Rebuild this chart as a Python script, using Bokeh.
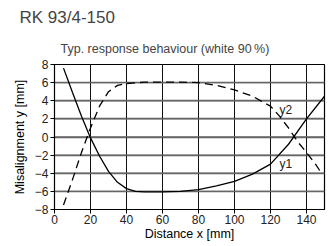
from bokeh.plotting import figure
from bokeh.models import Title, Label, FixedTicker, Range1d, Spacer
from bokeh.layouts import row
from bokeh.embed import file_html
from bokeh.resources import INLINE

# Data
x_y1 = [5, 10, 15, 20, 25, 30, 35, 40, 45, 50, 60, 70, 80, 90, 100, 110, 120, 130, 140, 150]
y1 = [7.6, 4.9, 2.3, -0.1, -2.1, -3.8, -5.0, -5.7, -6.0, -6.05, -6.05, -6.0, -5.8, -5.4, -4.9, -4.1, -3.0, -0.8, 2.0, 4.5]
x_y2 = [5, 10, 15, 20, 25, 30, 35, 40, 50, 60, 70, 80, 90, 100, 110, 120, 125, 130, 135, 140, 145, 148]
y2 = [-7.5, -4.7, -1.7, 1.0, 3.4, 5.0, 5.7, 5.9, 6.05, 6.05, 6.05, 6.0, 5.7, 5.2, 4.5, 3.4, 2.3, 1.0, -0.5, -1.7, -3.0, -3.9]
x_ticks = [0, 20, 40, 60, 80, 100, 120, 140]
y_ticks = [-8, -6, -4, -2, 0, 2, 4, 6, 8]
x_min, x_max = 0, 150
y_min, y_max = -8, 8

p = figure(frame_width=270, frame_height=145, output_backend="svg", toolbar_location=None,
           x_range=Range1d(x_min, x_max), y_range=Range1d(y_min, y_max),
           title=None, min_border_left=0, min_border_right=3, min_border_top=0, min_border_bottom=0)
p.background_fill_color = "white"
p.border_fill_color = "white"

p.add_layout(Title(text="Typ. response behaviour (white 90\u2009%)", text_font="Liberation Sans",
                   text_font_size="12.5px", text_font_style="normal", align="left", offset=6,
                   standoff=17), "above")
p.add_layout(Title(text="RK 93/4-150", text_font="Liberation Sans", text_font_size="17px",
                   text_font_style="normal", align="left", offset=-35), "above")

p.outline_line_color = "black"
p.outline_line_width = 1.2
p.outline_line_alpha = 1

p.xaxis.ticker = FixedTicker(ticks=x_ticks)
p.yaxis.ticker = FixedTicker(ticks=y_ticks)
p.xaxis.axis_label = "Distance x [mm]"
p.yaxis.axis_label = "Misalignment y [mm]"
for ax in (p.xaxis, p.yaxis):
    ax.axis_label_text_font = "Liberation Sans"
    ax.axis_label_text_font_size = "12.5px"
    ax.axis_label_text_font_style = "normal"
    ax.axis_label_text_color = "black"
    ax.major_label_text_font = "Liberation Sans"
    ax.major_label_text_font_size = "12px"
    ax.major_label_text_color = "#222222"
    ax.minor_tick_line_color = None
    ax.major_tick_out = 4
    ax.major_tick_in = 0
    ax.major_tick_line_color = "black"
    ax.axis_line_color = "black"
p.xaxis.axis_label_standoff = 0
p.xaxis.major_label_standoff = 1
p.yaxis.axis_label_standoff = 5
p.yaxis.major_label_standoff = 2

# grid lines: both the built-in grid and explicit lines from the tick arrays
p.xgrid.ticker = FixedTicker(ticks=x_ticks)
p.ygrid.ticker = FixedTicker(ticks=y_ticks)
p.xgrid.grid_line_color = "#111111"
p.ygrid.grid_line_color = "#666666"
p.xgrid.grid_line_alpha = 1.0
p.ygrid.grid_line_alpha = 1.0
p.ygrid.grid_line_width = 1.3

for t in x_ticks[1:]:
    p.line([t, t], [y_min, y_max], line_color="#111111", line_width=1.0)
for t in y_ticks[1:-1]:
    p.line([x_min, x_max], [t, t], line_color="#666666", line_width=1.3)

p.line(x_y1, y1, line_color="black", line_width=1.3)
p.line(x_y2, y2, line_color="black", line_width=1.3, line_dash="8 5")

p.add_layout(Label(x=125, y=3.0, text="y2", text_font="Liberation Sans", text_font_size="12px",
                   text_baseline="middle", text_color="#222222"))
p.add_layout(Label(x=125, y=-3.0, text="y1", text_font="Liberation Sans", text_font_size="12px",
                   text_baseline="middle", text_color="#222222"))

layout = row(Spacer(width=9), p)
open("out.html", "w").write(file_html(layout, INLINE))
